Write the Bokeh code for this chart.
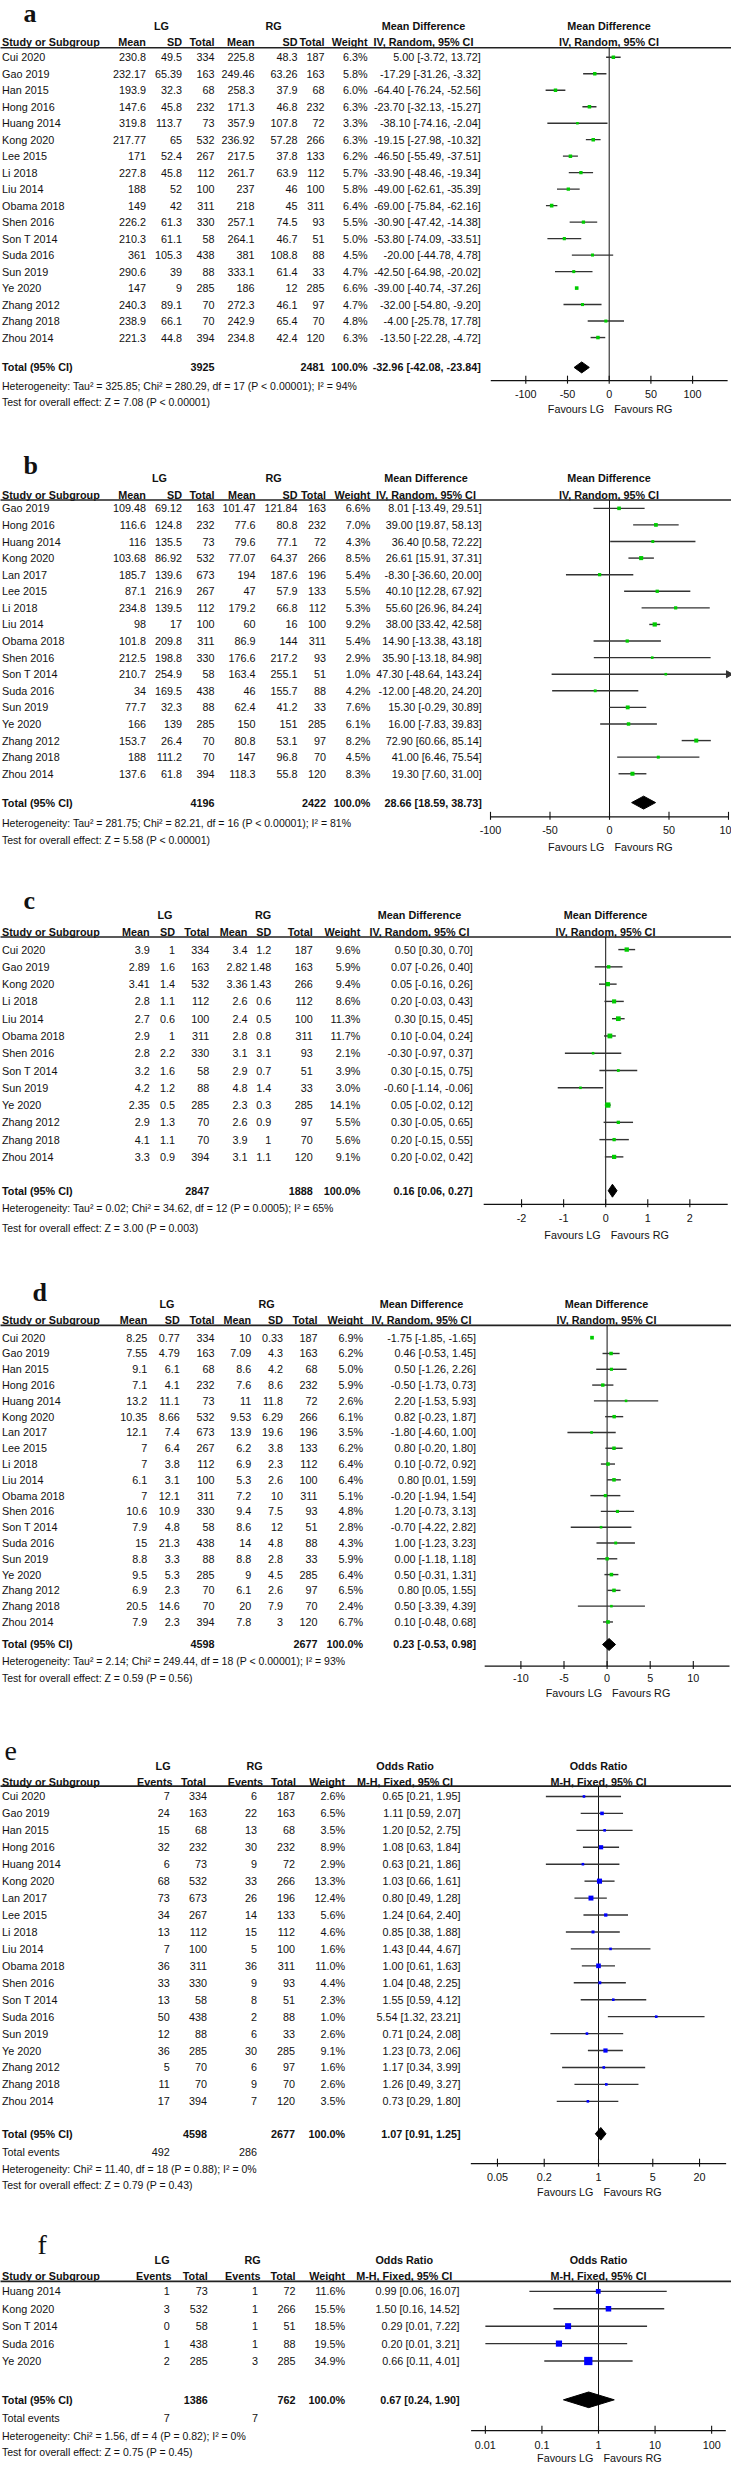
import math
from bokeh.plotting import figure
from bokeh.models import Range1d, LogScale, LinearScale
from bokeh.core.properties import value
from bokeh.embed import file_html
from bokeh.resources import INLINE

FONT = "Liberation Sans, Arial, Helvetica, sans-serif"
SERIF = "Liberation Serif, Times New Roman, serif"
FS = "10.8px"

# ---------------- Panel a ----------------
a_study = ["Cui 2020", "Gao 2019", "Han 2015", "Hong 2016", "Huang 2014", "Kong 2020", "Lee 2015", "Li 2018",
           "Liu 2014", "Obama 2018", "Shen 2016", "Son T 2014", "Suda 2016", "Sun 2019", "Ye 2020",
           "Zhang 2012", "Zhang 2018", "Zhou 2014"]
a_lg_mean = [230.8, 232.17, 193.9, 147.6, 319.8, 217.77, 171, 227.8, 188, 149, 226.2, 210.3, 361, 290.6, 147, 240.3, 238.9, 221.3]
a_lg_sd = [49.5, 65.39, 32.3, 45.8, 113.7, 65, 52.4, 45.8, 52, 42, 61.3, 61.1, 105.3, 39, 9, 89.1, 66.1, 44.8]
a_lg_n = [334, 163, 68, 232, 73, 532, 267, 112, 100, 311, 330, 58, 438, 88, 285, 70, 70, 394]
a_rg_mean = [225.8, 249.46, 258.3, 171.3, 357.9, 236.92, 217.5, 261.7, 237, 218, 257.1, 264.1, 381, 333.1, 186, 272.3, 242.9, 234.8]
a_rg_sd = [48.3, 63.26, 37.9, 46.8, 107.8, 57.28, 37.8, 63.9, 46, 45, 74.5, 46.7, 108.8, 61.4, 12, 46.1, 65.4, 42.4]
a_rg_n = [187, 163, 68, 232, 72, 266, 133, 112, 100, 311, 93, 51, 88, 33, 285, 97, 70, 120]
a_weight = [6.3, 5.8, 6.0, 6.3, 3.3, 6.3, 6.2, 5.7, 5.8, 6.4, 5.5, 5.0, 4.5, 4.7, 6.6, 4.7, 4.8, 6.3]
a_est = [5.00, -17.29, -64.40, -23.70, -38.10, -19.15, -46.50, -33.90, -49.00, -69.00, -30.90, -53.80, -20.00, -42.50, -39.00, -32.00, -4.00, -13.50]
a_lo = [-3.72, -31.26, -76.24, -32.13, -74.16, -27.98, -55.49, -48.46, -62.61, -75.84, -47.42, -74.09, -44.78, -64.98, -40.74, -54.80, -25.78, -22.28]
a_hi = [13.72, -3.32, -52.56, -15.27, -2.04, -10.32, -37.51, -19.34, -35.39, -62.16, -14.38, -33.51, 4.78, -20.02, -37.26, -9.20, 17.78, -4.72]
a_total_n = [3925, 2481]
a_total_ci = [-32.96, -42.08, -23.84]
a_het = "Heterogeneity: Tau\u00b2 = 325.85; Chi\u00b2 = 280.29, df = 17 (P < 0.00001); I\u00b2 = 94%"
a_test = "Test for overall effect: Z = 7.08 (P < 0.00001)"
a_ticks = [-100, -50, 0, 50, 100]
a_span = [-142, 142]

# ---------------- Panel b ----------------
b_study = ["Gao 2019", "Hong 2016", "Huang 2014", "Kong 2020", "Lan 2017", "Lee 2015", "Li 2018", "Liu 2014",
           "Obama 2018", "Shen 2016", "Son T 2014", "Suda 2016", "Sun 2019", "Ye 2020", "Zhang 2012",
           "Zhang 2018", "Zhou 2014"]
b_lg_mean = [109.48, 116.6, 116, 103.68, 185.7, 87.1, 234.8, 98, 101.8, 212.5, 210.7, 34, 77.7, 166, 153.7, 188, 137.6]
b_lg_sd = [69.12, 124.8, 135.5, 86.92, 139.6, 216.9, 139.5, 17, 209.8, 198.8, 254.9, 169.5, 32.3, 139, 26.4, 111.2, 61.8]
b_lg_n = [163, 232, 73, 532, 673, 267, 112, 100, 311, 330, 58, 438, 88, 285, 70, 70, 394]
b_rg_mean = [101.47, 77.6, 79.6, 77.07, 194, 47, 179.2, 60, 86.9, 176.6, 163.4, 46, 62.4, 150, 80.8, 147, 118.3]
b_rg_sd = [121.84, 80.8, 77.1, 64.37, 187.6, 57.9, 66.8, 16, 144, 217.2, 255.1, 155.7, 41.2, 151, 53.1, 96.8, 55.8]
b_rg_n = [163, 232, 72, 266, 196, 133, 112, 100, 311, 93, 51, 88, 33, 285, 97, 70, 120]
b_weight = [6.6, 7.0, 4.3, 8.5, 5.4, 5.5, 5.3, 9.2, 5.4, 2.9, 1.0, 4.2, 7.6, 6.1, 8.2, 4.5, 8.3]
b_est = [8.01, 39.00, 36.40, 26.61, -8.30, 40.10, 55.60, 38.00, 14.90, 35.90, 47.30, -12.00, 15.30, 16.00, 72.90, 41.00, 19.30]
b_lo = [-13.49, 19.87, 0.58, 15.91, -36.60, 12.28, 26.96, 33.42, -13.38, -13.18, -48.64, -48.20, -0.29, -7.83, 60.66, 6.46, 7.60]
b_hi = [29.51, 58.13, 72.22, 37.31, 20.00, 67.92, 84.24, 42.58, 43.18, 84.98, 143.24, 24.20, 30.89, 39.83, 85.14, 75.54, 31.00]
b_total_n = [4196, 2422]
b_total_ci = [28.66, 18.59, 38.73]
b_het = "Heterogeneity: Tau\u00b2 = 281.75; Chi\u00b2 = 82.21, df = 16 (P < 0.00001); I\u00b2 = 81%"
b_test = "Test for overall effect: Z = 5.58 (P < 0.00001)"
b_ticks = [-100, -50, 0, 50, 100]
b_span = [-100, 100]

# ---------------- Panel c ----------------
c_study = ["Cui 2020", "Gao 2019", "Kong 2020", "Li 2018", "Liu 2014", "Obama 2018", "Shen 2016", "Son T 2014",
           "Sun 2019", "Ye 2020", "Zhang 2012", "Zhang 2018", "Zhou 2014"]
c_lg_mean = [3.9, 2.89, 3.41, 2.8, 2.7, 2.9, 2.8, 3.2, 4.2, 2.35, 2.9, 4.1, 3.3]
c_lg_sd = [1, 1.6, 1.4, 1.1, 0.6, 1, 2.2, 1.6, 1.2, 0.5, 1.3, 1.1, 0.9]
c_lg_n = [334, 163, 532, 112, 100, 311, 330, 58, 88, 285, 70, 70, 394]
c_rg_mean = [3.4, 2.82, 3.36, 2.6, 2.4, 2.8, 3.1, 2.9, 4.8, 2.3, 2.6, 3.9, 3.1]
c_rg_sd = [1.2, 1.48, 1.43, 0.6, 0.5, 0.8, 3.1, 0.7, 1.4, 0.3, 0.9, 1, 1.1]
c_rg_n = [187, 163, 266, 112, 100, 311, 93, 51, 33, 285, 97, 70, 120]
c_weight = [9.6, 5.9, 9.4, 8.6, 11.3, 11.7, 2.1, 3.9, 3.0, 14.1, 5.5, 5.6, 9.1]
c_est = [0.50, 0.07, 0.05, 0.20, 0.30, 0.10, -0.30, 0.30, -0.60, 0.05, 0.30, 0.20, 0.20]
c_lo = [0.30, -0.26, -0.16, -0.03, 0.15, -0.04, -0.97, -0.15, -1.14, -0.02, -0.05, -0.15, -0.02]
c_hi = [0.70, 0.40, 0.26, 0.43, 0.45, 0.24, 0.37, 0.75, -0.06, 0.12, 0.65, 0.55, 0.42]
c_total_n = [2847, 1888]
c_total_ci = [0.16, 0.06, 0.27]
c_het = "Heterogeneity: Tau\u00b2 = 0.02; Chi\u00b2 = 34.62, df = 12 (P = 0.0005); I\u00b2 = 65%"
c_test = "Test for overall effect: Z = 3.00 (P = 0.003)"
c_ticks = [-2, -1, 0, 1, 2]
c_span = [-2.9, 2.9]

# ---------------- Panel d ----------------
d_study = ["Cui 2020", "Gao 2019", "Han 2015", "Hong 2016", "Huang 2014", "Kong 2020", "Lan 2017", "Lee 2015",
           "Li 2018", "Liu 2014", "Obama 2018", "Shen 2016", "Son T 2014", "Suda 2016", "Sun 2019", "Ye 2020",
           "Zhang 2012", "Zhang 2018", "Zhou 2014"]
d_lg_mean = [8.25, 7.55, 9.1, 7.1, 13.2, 10.35, 12.1, 7, 7, 6.1, 7, 10.6, 7.9, 15, 8.8, 9.5, 6.9, 20.5, 7.9]
d_lg_sd = [0.77, 4.79, 6.1, 4.1, 11.1, 8.66, 7.4, 6.4, 3.8, 3.1, 12.1, 10.9, 4.8, 21.3, 3.3, 5.3, 2.3, 14.6, 2.3]
d_lg_n = [334, 163, 68, 232, 73, 532, 673, 267, 112, 100, 311, 330, 58, 438, 88, 285, 70, 70, 394]
d_rg_mean = [10, 7.09, 8.6, 7.6, 11, 9.53, 13.9, 6.2, 6.9, 5.3, 7.2, 9.4, 8.6, 14, 8.8, 9, 6.1, 20, 7.8]
d_rg_sd = [0.33, 4.3, 4.2, 8.6, 11.8, 6.29, 19.6, 3.8, 2.3, 2.6, 10, 7.5, 12, 4.8, 2.8, 4.5, 2.6, 7.9, 3]
d_rg_n = [187, 163, 68, 232, 72, 266, 196, 133, 112, 100, 311, 93, 51, 88, 33, 285, 97, 70, 120]
d_weight = [6.9, 6.2, 5.0, 5.9, 2.6, 6.1, 3.5, 6.2, 6.4, 6.4, 5.1, 4.8, 2.8, 4.3, 5.9, 6.4, 6.5, 2.4, 6.7]
d_est = [-1.75, 0.46, 0.50, -0.50, 2.20, 0.82, -1.80, 0.80, 0.10, 0.80, -0.20, 1.20, -0.70, 1.00, 0.00, 0.50, 0.80, 0.50, 0.10]
d_lo = [-1.85, -0.53, -1.26, -1.73, -1.53, -0.23, -4.60, -0.20, -0.72, 0.01, -1.94, -0.73, -4.22, -1.23, -1.18, -0.31, 0.05, -3.39, -0.48]
d_hi = [-1.65, 1.45, 2.26, 0.73, 5.93, 1.87, 1.00, 1.80, 0.92, 1.59, 1.54, 3.13, 2.82, 3.23, 1.18, 1.31, 1.55, 4.39, 0.68]
d_total_n = [4598, 2677]
d_total_ci = [0.23, -0.53, 0.98]
d_het = "Heterogeneity: Tau\u00b2 = 2.14; Chi\u00b2 = 249.44, df = 18 (P < 0.00001); I\u00b2 = 93%"
d_test = "Test for overall effect: Z = 0.59 (P = 0.56)"
d_ticks = [-10, -5, 0, 5, 10]
d_span = [-14.2, 14.2]

# ---------------- Panel e ----------------
e_study = ["Cui 2020", "Gao 2019", "Han 2015", "Hong 2016", "Huang 2014", "Kong 2020", "Lan 2017", "Lee 2015",
           "Li 2018", "Liu 2014", "Obama 2018", "Shen 2016", "Son T 2014", "Suda 2016", "Sun 2019", "Ye 2020",
           "Zhang 2012", "Zhang 2018", "Zhou 2014"]
e_lg_ev = [7, 24, 15, 32, 6, 68, 73, 34, 13, 7, 36, 33, 13, 50, 12, 36, 5, 11, 17]
e_lg_n = [334, 163, 68, 232, 73, 532, 673, 267, 112, 100, 311, 330, 58, 438, 88, 285, 70, 70, 394]
e_rg_ev = [6, 22, 13, 30, 9, 33, 26, 14, 15, 5, 36, 9, 8, 2, 6, 30, 6, 9, 7]
e_rg_n = [187, 163, 68, 232, 72, 266, 196, 133, 112, 100, 311, 93, 51, 88, 33, 285, 97, 70, 120]
e_weight = [2.6, 6.5, 3.5, 8.9, 2.9, 13.3, 12.4, 5.6, 4.6, 1.6, 11.0, 4.4, 2.3, 1.0, 2.6, 9.1, 1.6, 2.6, 3.5]
e_est = [0.65, 1.11, 1.20, 1.08, 0.63, 1.03, 0.80, 1.24, 0.85, 1.43, 1.00, 1.04, 1.55, 5.54, 0.71, 1.23, 1.17, 1.26, 0.73]
e_lo = [0.21, 0.59, 0.52, 0.63, 0.21, 0.66, 0.49, 0.64, 0.38, 0.44, 0.61, 0.48, 0.59, 1.32, 0.24, 0.73, 0.34, 0.49, 0.29]
e_hi = [1.95, 2.07, 2.75, 1.84, 1.86, 1.61, 1.28, 2.40, 1.88, 4.67, 1.63, 2.25, 4.12, 23.21, 2.08, 2.06, 3.99, 3.27, 1.80]
e_total_n = [4598, 2677]
e_total_events = [492, 286]
e_total_ci = [1.07, 0.91, 1.25]
e_het = "Heterogeneity: Chi\u00b2 = 11.40, df = 18 (P = 0.88); I\u00b2 = 0%"
e_test = "Test for overall effect: Z = 0.79 (P = 0.43)"
e_ticks = [0.05, 0.2, 1, 5, 20]
e_span = [0.0227, 44]

# ---------------- Panel f ----------------
f_study = ["Huang 2014", "Kong 2020", "Son T 2014", "Suda 2016", "Ye 2020"]
f_lg_ev = [1, 3, 0, 1, 2]
f_lg_n = [73, 532, 58, 438, 285]
f_rg_ev = [1, 1, 1, 1, 3]
f_rg_n = [72, 266, 51, 88, 285]
f_weight = [11.6, 15.5, 18.5, 19.5, 34.9]
f_est = [0.99, 1.50, 0.29, 0.20, 0.66]
f_lo = [0.06, 0.16, 0.01, 0.01, 0.11]
f_hi = [16.07, 14.52, 7.22, 3.21, 4.01]
f_total_n = [1386, 762]
f_total_events = [7, 7]
f_total_ci = [0.67, 0.24, 1.90]
f_het = "Heterogeneity: Chi\u00b2 = 1.56, df = 4 (P = 0.82); I\u00b2 = 0%"
f_test = "Test for overall effect: Z = 0.75 (P = 0.45)"
f_ticks = [0.01, 0.1, 1, 10, 100]
f_span = [0.0056, 178]

MD_HDR = ["Mean", "SD", "Total", "Mean", "SD", "Total"]
OR_HDR = ["Events", "Total", "Events", "Total"]

panels = [
    dict(name="a", label="a", kind="md", study=a_study,
         vals=[a_lg_mean, a_lg_sd, a_lg_n, a_rg_mean, a_rg_sd, a_rg_n], weight=a_weight,
         est=a_est, lo=a_lo, hi=a_hi, total_n=a_total_n, total_ci=a_total_ci, het=a_het, test=a_test,
         ticks=a_ticks, span=a_span, color="#00cc00",
         L=dict(label_x=31, label_y=16, label_bold=True, label_size="26px",
                hdr1=29, hdr2=45, rule=50.5, first=60, step=16.57, total=371.7, het=390, test=406.7,
                axis=385, ticklab=398.3, fav=413, dh=11,
                cols=[153.4, 189.6, 222, 262, 305, 332], hcols=None, wx=375, cix=488.3,
                lg_x=169, rg_x=281, ci_x=431, fx=616.5, x0=616.7, s=0.834, log=False)),
    dict(name="b", label="b", kind="md", study=b_study,
         vals=[b_lg_mean, b_lg_sd, b_lg_n, b_rg_mean, b_rg_sd, b_rg_n], weight=b_weight,
         est=b_est, lo=b_lo, hi=b_hi, total_n=b_total_n, total_ci=b_total_ci, het=b_het, test=b_test,
         ticks=b_ticks, span=b_span, color="#00cc00",
         L=dict(label_x=31, label_y=470, label_bold=True, label_size="26px",
                hdr1=482.7, hdr2=500, rule=505, first=513.3, step=16.67, total=809, het=830, test=846.7,
                axis=823.3, ticklab=836.7, fav=853.3, dh=13,
                cols=[153.4, 189.6, 222, 263, 305, 333.5], hcols=None, wx=377.8, cix=489.3,
                lg_x=167, rg_x=281, ci_x=433.5, fx=616.5, x0=617, s=1.19, log=False)),
    dict(name="c", label="c", kind="md", study=c_study,
         vals=[c_lg_mean, c_lg_sd, c_lg_n, c_rg_mean, c_rg_sd, c_rg_n], weight=c_weight,
         est=c_est, lo=c_lo, hi=c_hi, total_n=c_total_n, total_ci=c_total_ci, het=c_het, test=c_test,
         ticks=c_ticks, span=c_span, color="#00cc00",
         L=dict(label_x=31, label_y=907, label_bold=True, label_size="26px",
                hdr1=921.7, hdr2=939, rule=944, first=956.7, step=17.36, total=1199, het=1216.7, test=1236,
                axis=1212.7, ticklab=1226.7, fav=1243.3, dh=13,
                cols=[157.2, 182.5, 216.8, 254.9, 278.7, 320.2], hcols=None, wx=367.8, cix=480.2,
                lg_x=172.5, rg_x=270.6, ci_x=427, fx=613, x0=613.2, s=42.07, log=False)),
    dict(name="d", label="d", kind="md", study=d_study,
         vals=[d_lg_mean, d_lg_sd, d_lg_n, d_rg_mean, d_rg_sd, d_rg_n], weight=d_weight,
         est=d_est, lo=d_lo, hi=d_hi, total_n=d_total_n, total_ci=d_total_ci, het=d_het, test=d_test,
         ticks=d_ticks, span=d_span, color="#00cc00",
         L=dict(label_x=40, label_y=1301.7, label_bold=True, label_size="26px",
                hdr1=1313.3, hdr2=1329.3, rule=1334.3, first=1346.7, step=15.87, total=1655, het=1671.7,
                test=1688.3, axis=1676.7, ticklab=1688.3, fav=1703.3, dh=12,
                cols=[154.8, 187.2, 222, 258.7, 290.6, 325], hcols=None, wx=370.7, cix=483.6,
                lg_x=174.4, rg_x=274, ci_x=429, fx=614, x0=614.6, s=8.62, log=False)),
    dict(name="e", label="e", kind="or", study=e_study,
         vals=[e_lg_ev, e_lg_n, e_rg_ev, e_rg_n], weight=e_weight,
         est=e_est, lo=e_lo, hi=e_hi, total_n=e_total_n, total_ci=e_total_ci, total_events=e_total_events,
         het=e_het, test=e_test, ticks=e_ticks, span=e_span, color="#0000ff",
         L=dict(label_x=12, label_y=1761.7, label_bold=False, label_size="28px",
                hdr1=1776.7, hdr2=1792.7, rule=1797.3, first=1807.7, step=17.02, total=2146.7, totev=2165,
                het=2181.7, test=2198.3, axis=2176.7, ticklab=2190, fav=2205, dh=12.7,
                cols=[177.2, 214.4, 264.4, 302.5], hcols=[180, 213.4, 270.6, 303.5], wx=352.5, cix=468,
                lg_x=170.6, rg_x=262, ci_x=412.6, fx=606, x0=606, s=77.66, log=True)),
    dict(name="f", label="f", kind="or", study=f_study,
         vals=[f_lg_ev, f_lg_n, f_rg_ev, f_rg_n], weight=f_weight,
         est=f_est, lo=f_lo, hi=f_hi, total_n=f_total_n, total_ci=f_total_ci, total_events=f_total_events,
         het=f_het, test=f_test, ticks=f_ticks, span=f_span, color="#0000ff",
         L=dict(label_x=45, label_y=2258, label_bold=False, label_size="28px",
                hdr1=2273.3, hdr2=2290, rule=2295, first=2305, step=17.5, total=2414, totev=2432.7,
                het=2450, test=2466.7, axis=2445, ticklab=2459, fav=2472, dh=15.7,
                cols=[177.2, 215.3, 265.4, 303], hcols=[179, 215.3, 268, 303], wx=352.5, cix=467,
                lg_x=169.6, rg_x=260, ci_x=411.7, fx=606, x0=606, s=56.57, log=True)),
]

# page geometry: canvas covers page x 8..739, reference y 3..2480
X_LO, X_HI = 8, 739
extra_ranges, extra_scales = {}, {}
for P in panels:
    L = P["L"]
    if L["log"]:
        extra_ranges[P["name"]] = Range1d(10 ** ((X_LO - L["x0"]) / L["s"]), 10 ** ((X_HI - L["x0"]) / L["s"]))
        extra_scales[P["name"]] = LogScale()
    else:
        extra_ranges[P["name"]] = Range1d((X_LO - L["x0"]) / L["s"], (X_HI - L["x0"]) / L["s"])
        extra_scales[P["name"]] = LinearScale()

p = figure(width=731, height=2465, x_range=Range1d(X_LO, X_HI), y_range=Range1d(2480, 3),
           extra_x_ranges=extra_ranges, extra_x_scales=extra_scales,
           output_backend="svg", toolbar_location=None, x_axis_location=None, y_axis_location=None,
           min_border=0)
p.grid.visible = False
p.outline_line_color = None
p.background_fill_color = "white"
p.border_fill_color = "white"

TXT = "#111111"


def put(xs, ys, texts, align="right", bold=False, size=FS, font=FONT, rn="default", xoff=0,
        baseline="middle"):
    p.text(x=xs, y=ys, text=texts, text_align=align, text_baseline=baseline,
           text_font=value(font), text_font_size=size, text_font_style="bold" if bold else "normal",
           text_color=TXT, x_offset=xoff, x_range_name=rn)


def fmt(v):
    return f"{v:g}"


def ci_txt(e, lo, hi):
    return f"{e:.2f} [{lo:.2f}, {hi:.2f}]"


for P in panels:
    L = P["L"]
    rn = P["name"]
    n = len(P["study"])
    ys = [L["first"] + i * L["step"] for i in range(n)]
    md = P["kind"] == "md"

    # panel letter
    put([L["label_x"]], [L["label_y"]], [P["label"]], align="left", bold=L["label_bold"],
        size=L["label_size"], font=SERIF, baseline="alphabetic")

    # headers
    title = "Mean Difference" if md else "Odds Ratio"
    method = "IV, Random, 95% CI" if md else "M-H, Fixed, 95% CI"
    put([L["lg_x"], L["rg_x"], L["ci_x"], L["fx"]], [L["hdr1"]] * 4, ["LG", "RG", title, title],
        align="center", bold=True)
    hdrs = MD_HDR if md else OR_HDR
    hcols = L["hcols"] or L["cols"]
    put([9.5], [L["hdr2"]], ["Study or Subgroup"], align="left", bold=True)
    put(hcols + [L["wx"]], [L["hdr2"]] * (len(hdrs) + 1), hdrs + ["Weight"], align="right", bold=True)
    put([L["ci_x"], L["fx"]], [L["hdr2"]] * 2, [method, method], align="center", bold=True)
    p.segment(x0=[2], y0=[L["rule"]], x1=[745], y1=[L["rule"]], line_color="#222222", line_width=1.6)

    # study rows
    put([9.5] * n, ys, P["study"], align="left")
    for col, arr in zip(L["cols"], P["vals"]):
        put([col] * n, ys, [fmt(v) for v in arr])
    put([L["wx"]] * n, ys, [f"{w:.1f}%" for w in P["weight"]])
    put([L["cix"]] * n, ys, [ci_txt(e, lo, hi) for e, lo, hi in zip(P["est"], P["lo"], P["hi"])])

    # total row
    ty = L["total"]
    tcols = [L["cols"][2], L["cols"][5]] if md else [L["cols"][1], L["cols"][3]]
    put([9.5], [ty], ["Total (95% CI)"], align="left", bold=True)
    put(tcols + [L["wx"]], [ty] * 3, [fmt(v) for v in P["total_n"]] + ["100.0%"], bold=True)
    put([L["cix"]], [ty], [ci_txt(*P["total_ci"])], bold=True)
    if not md:
        put([9.5], [L["totev"]], ["Total events"], align="left")
        put([L["cols"][0], L["cols"][2]], [L["totev"]] * 2, [fmt(v) for v in P["total_events"]])
    put([9.5, 9.5], [L["het"], L["test"]], [P["het"], P["test"]], align="left", size="10.5px")

    # ---- forest plot ----
    ref = 1 if L["log"] else 0
    lo_s, hi_s = P["span"]
    p.segment(x0=[ref], y0=[L["rule"]], x1=[ref], y1=[L["axis"]], line_color="#111111", line_width=1,
              x_range_name=rn)
    lo_c = [max(v, lo_s) for v in P["lo"]]
    hi_c = [min(v, hi_s) for v in P["hi"]]
    p.segment(x0=lo_c, y0=ys, x1=hi_c, y1=ys, line_color="#333333", line_width=1.4, x_range_name=rn)
    arr_y = [y for y, h in zip(ys, P["hi"]) if h > hi_s]
    if arr_y:
        p.scatter(x=[hi_s] * len(arr_y), y=arr_y, marker="triangle", size=7, angle=-math.pi / 2,
                  fill_color="#333333", line_color="#333333", x_range_name=rn)
    sizes = [max(2.6, 1.4 * math.sqrt(w)) for w in P["weight"]]
    p.scatter(x=P["est"], y=ys, size=sizes, marker="square", fill_color=P["color"], line_color=None,
              x_range_name=rn)
    te, tl, th = P["total_ci"]
    h = L["dh"] / 2
    p.patch(x=[tl, te, th, te], y=[ty, ty - h, ty, ty + h], fill_color="black", line_color="black",
            x_range_name=rn)
    # axis
    ay = L["axis"]
    p.segment(x0=[lo_s], y0=[ay], x1=[hi_s], y1=[ay], line_color="#111111", line_width=1.3, x_range_name=rn)
    tk = P["ticks"]
    p.segment(x0=tk, y0=[ay - 5] * len(tk), x1=tk, y1=[ay + 3] * len(tk), line_color="#111111",
              line_width=1.1, x_range_name=rn)
    put(tk, [L["ticklab"]] * len(tk), [fmt(t) for t in tk], align="center", rn=rn)
    put([ref], [L["fav"]], ["Favours LG"], align="right", rn=rn, xoff=-5)
    put([ref], [L["fav"]], ["Favours RG"], align="left", rn=rn, xoff=5)

open("out.html", "w").write(file_html(p, INLINE))
